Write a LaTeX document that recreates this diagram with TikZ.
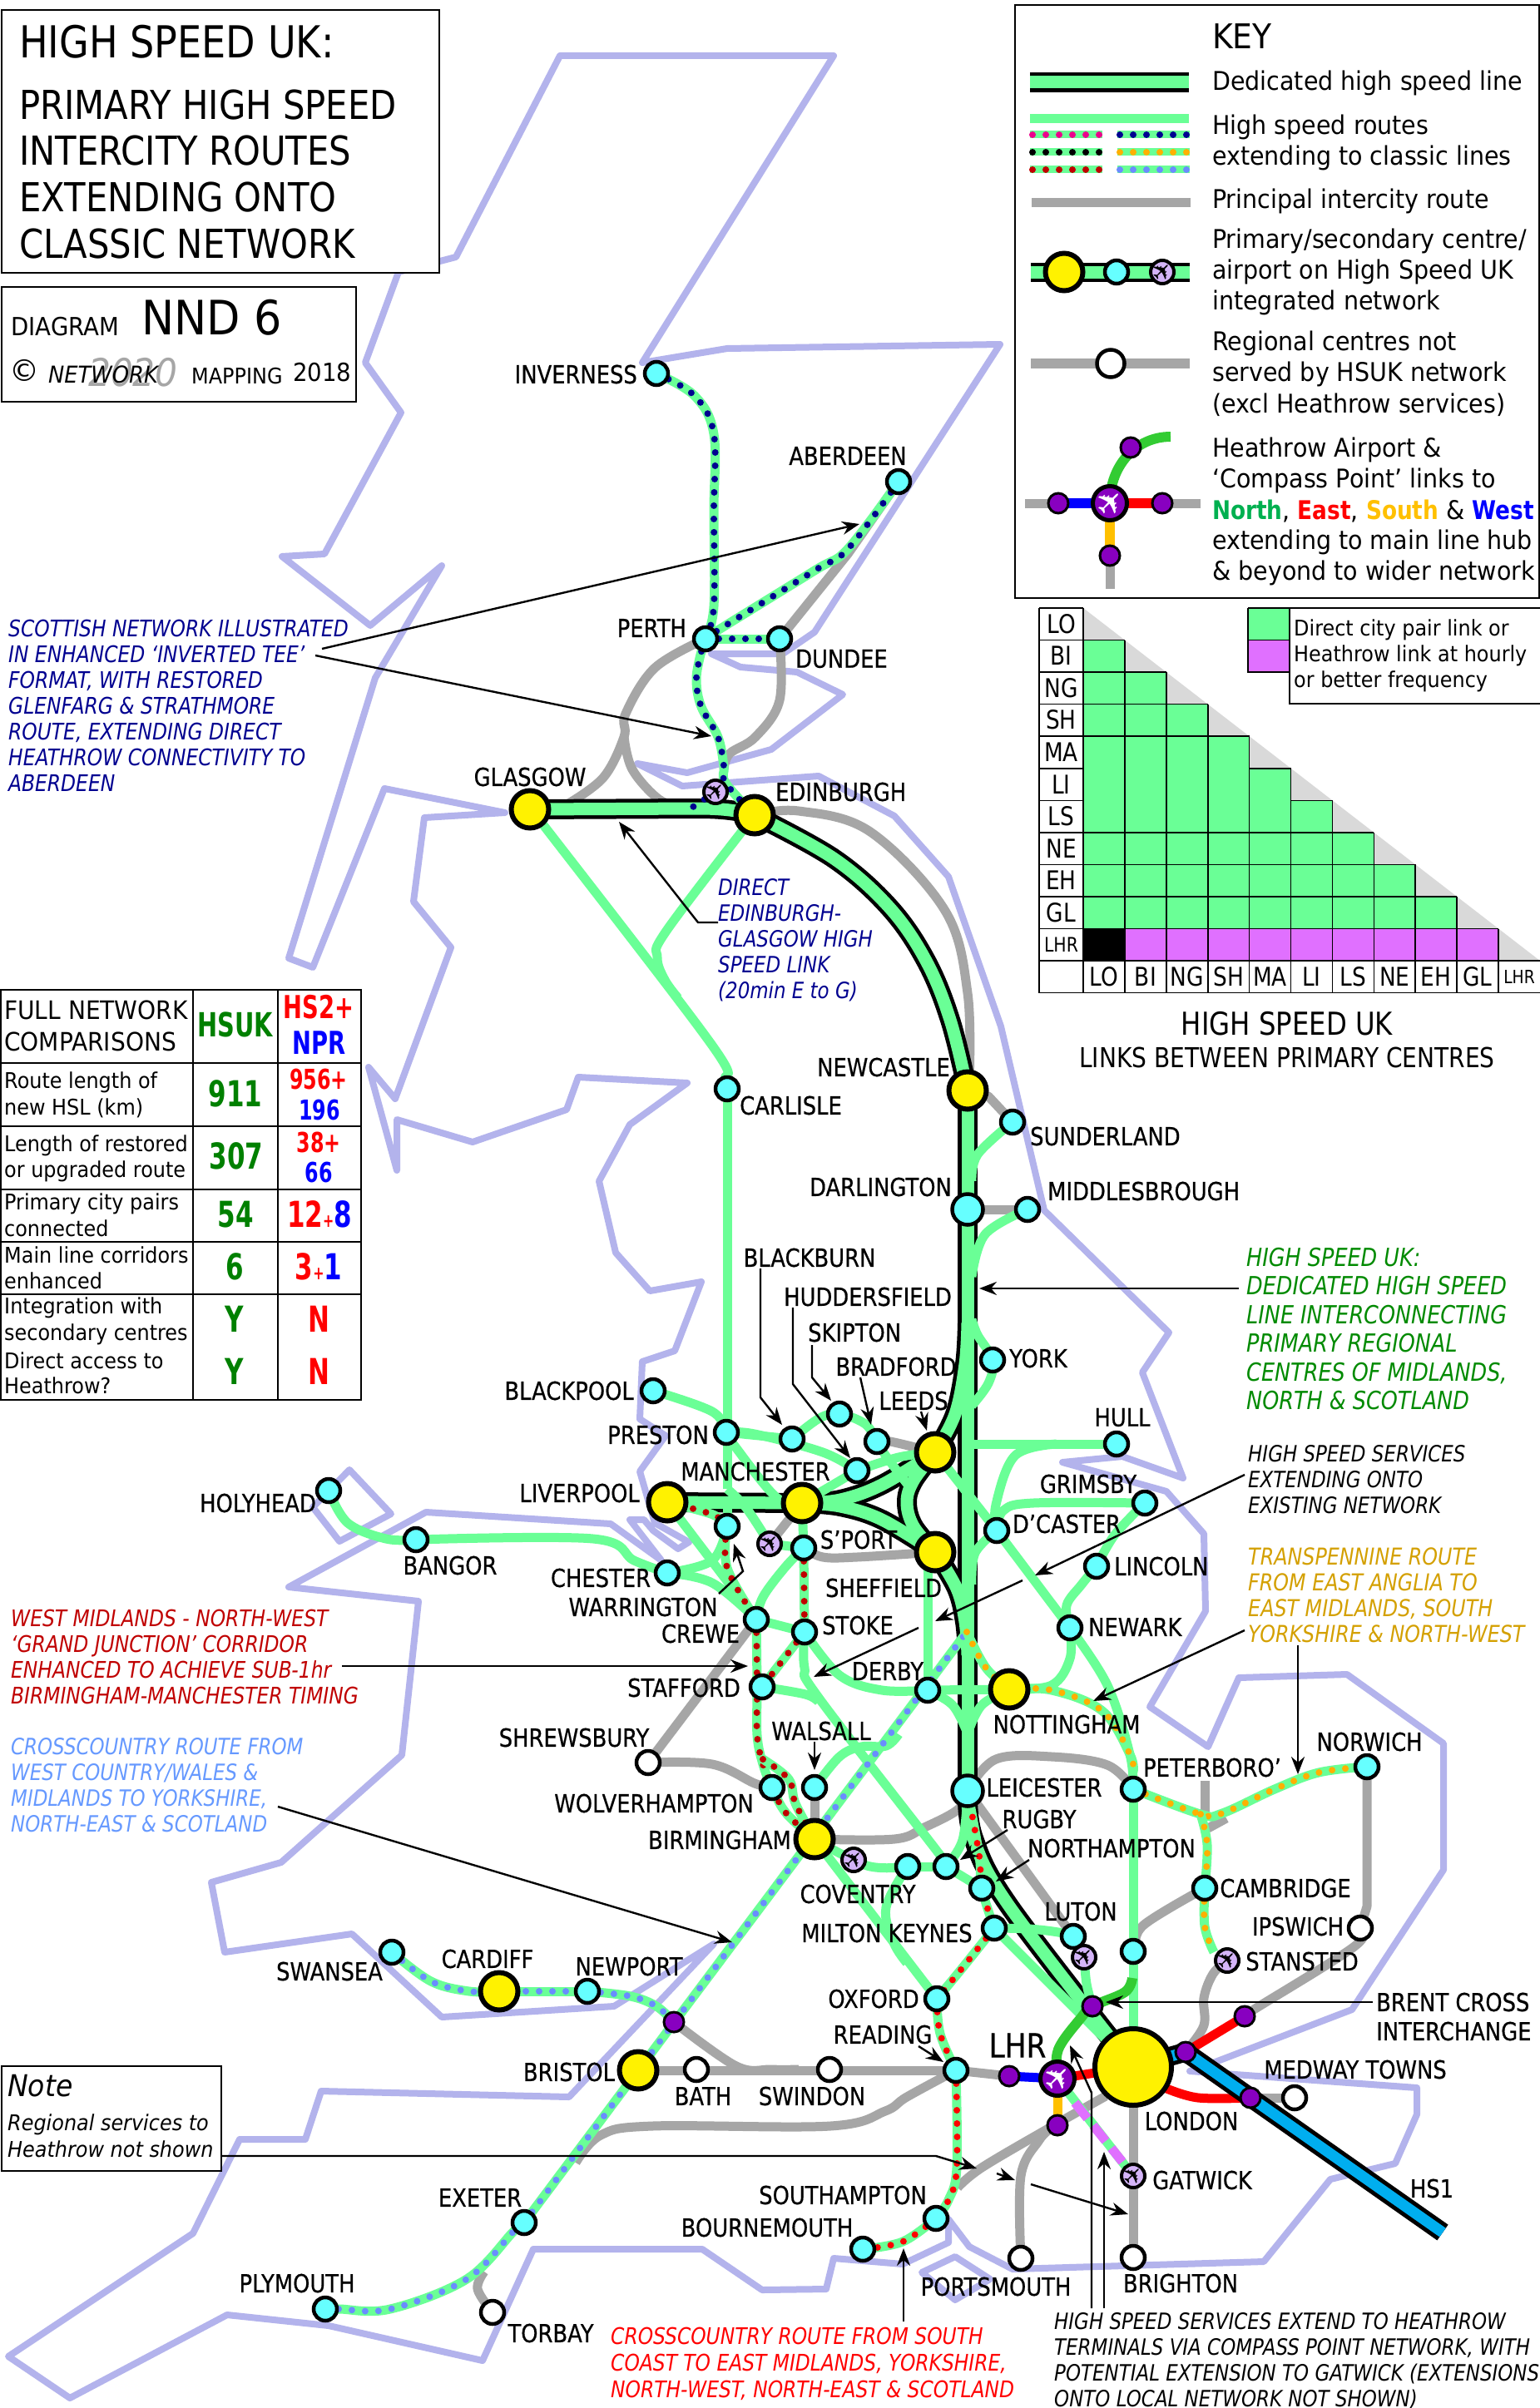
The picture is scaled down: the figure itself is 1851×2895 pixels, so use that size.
\documentclass[tikz,border=0pt]{standalone}
\usepackage{fontspec}
\usepackage{graphicx}
\usetikzlibrary{arrows.meta}
\newfontfamily\mapf{DejaVu Sans}[FakeStretch=0.86,FakeBold=0.5]
\newfontfamily\annf{DejaVu Sans}[FakeStretch=0.85]
\newfontfamily\keyf{DejaVu Sans}[FakeStretch=0.92]
\newfontfamily\titf{DejaVu Sans}[FakeStretch=0.87]
\newfontfamily\kbf{DejaVu Sans}[FakeStretch=0.85]
\newfontfamily\numf{DejaVu Sans}[FakeStretch=0.72]
\newfontfamily\planef{DejaVu Sans}
\setmainfont{DejaVu Sans}
\newcommand\fsz[1]{\fontsize{#1}{#1}\selectfont}
\newcommand\fszl[2]{\fontsize{#1}{#2}\selectfont}
\newcommand\planeic[2]{\textcolor{#1}{\fsz{#2}\rotatebox{45}{\planef\char"2708}}}
\newcommand\rt[2]{\draw[#1] plot[smooth,tension=.6] coordinates {#2};}
\newcommand\rtd[2]{\draw[hs] plot[smooth,tension=.6] coordinates {#2};\draw[#1] plot[smooth,tension=.6] coordinates {#2};}
\definecolor{hsg}{HTML}{6AFF96}
\definecolor{cyn}{HTML}{66FFFF}
\definecolor{gry}{HTML}{A6A6A6}
\definecolor{lav}{HTML}{B3B3EC}
\definecolor{purp}{HTML}{8800C0}
\definecolor{plav}{HTML}{D4B4F8}
\definecolor{mag}{HTML}{E070FF}
\definecolor{navyd}{HTML}{000090}
\definecolor{orng}{HTML}{FFB000}
\definecolor{bldot}{HTML}{6A8CFF}
\definecolor{dred}{HTML}{C00000}
\definecolor{gold}{HTML}{D4A000}
\definecolor{dgreen}{HTML}{008A00}
\definecolor{hs1}{HTML}{00AEEF}
\definecolor{north}{HTML}{00B050}
\definecolor{ngreen}{HTML}{33CC33}
\definecolor{sth}{HTML}{FFC000}
\definecolor{ccblue}{HTML}{6699FF}
\pgfdeclarelayer{bg}
\pgfsetlayers{bg,main}
\tikzset{
 coast/.style={draw=lav,line width=8pt,line join=round,line cap=round},
 gy/.style={draw=gry,line width=11pt,line join=round},
 hs/.style={draw=hsg,line width=11pt,line join=round},
 hsb/.style={draw=black,line width=24pt},
 hsc/.style={draw=hsg,line width=15pt},
 ddot/.style={line width=8pt,line cap=round,dash pattern=on 0pt off 16pt},
 dnavy/.style={ddot,draw=navyd},
 dorng/.style={ddot,draw=orng},
 dblue/.style={ddot,draw=bldot},
 dred1/.style={ddot,draw=dred},
 dred2/.style={ddot,draw=red},
 cy/.style={circle,draw=black,fill=cyn,line width=4.5pt,minimum size=28pt,inner sep=0pt},
 cyb/.style={cy,minimum size=37pt},
 yl/.style={circle,draw=black,fill=yellow,line width=6pt,minimum size=45pt,inner sep=0pt},
 wh/.style={circle,draw=black,fill=white,line width=4.5pt,minimum size=28pt,inner sep=0pt},
 pu/.style={circle,draw=black,fill=purp,line width=3pt,minimum size=24pt,inner sep=0pt},
 ap/.style={circle,draw=black,fill=plav,line width=4pt,minimum size=28pt,inner sep=0pt,label={[inner sep=0pt]center:\planeic{black}{29}}},
 aph/.style={circle,draw=black,fill=purp,line width=5pt,minimum size=41pt,inner sep=0pt,label={[inner sep=0pt]center:\planeic{white}{40}}},
 lab/.style={inner sep=0pt,text=black,font=\mapf\fsz{30}},
 ann/.style={inner sep=0pt,align=left,anchor=north west,font=\annf\itshape\fszl{27}{31}},
 tkey/.style={inner sep=0pt,anchor=west,font=\keyf\fsz{31}},
 tcell/.style={inner sep=0pt,anchor=west,font=\keyf\fsz{26}},
 tnum/.style={inner sep=0pt,font=\numf\bfseries\fsz{43}},
 bx/.style={draw=black,line width=2.5pt,fill=white},
 ar/.style={draw=black,line width=2.4pt,-{Stealth[length=21pt,width=16pt]}},
 mlab/.style={inner sep=0pt,font=\annf\fsz{31}},
 grid/.style={draw=black,line width=1.6pt}
}
\begin{document}
\begin{tikzpicture}[x=1pt,y=-1pt]
\useasboundingbox (0,0) rectangle (1851,2895);
% ---------- station nodes
\node[cy] (inv) at (789,449) {};
\node[cy] (abd) at (1080,579) {};
\node[cy] (per) at (848,768) {};
\node[cy] (dun) at (937,768) {};
\node[ap] (eap) at (860,952) {};
\node[yl] (gla) at (637,973) {};
\node[yl] (edi) at (907,980) {};
\node[yl] (new) at (1163,1311) {};
\node[cy] (car) at (874,1309) {};
\node[cy] (sun) at (1217,1349) {};
\node[cyb] (dar) at (1163,1454) {};
\node[cy] (mid) at (1235,1454) {};
\node[cy] (yor) at (1193,1635) {};
\node[cy] (hul) at (1342,1736) {};
\node[cy] (gri) at (1376,1807) {};
\node[cy] (don) at (1198,1840) {};
\node[cy] (lin) at (1318,1883) {};
\node[cy] (nwk) at (1286,1957) {};
\node[yl] (not) at (1213,2031) {};
\node[cyb] (lei) at (1163,2153) {};
\node[cy] (pet) at (1362,2151) {};
\node[cy] (nor) at (1643,2124) {};
\node[cy] (cam) at (1448,2270) {};
\node[wh] (ips) at (1635,2318) {};
\node[ap] (stn) at (1475,2357) {};
\node[cy] (blp) at (785,1672) {};
\node[cy] (pre) at (873,1722) {};
\node[cy] (bkb) at (952,1730) {};
\node[cy] (ski) at (1009,1700) {};
\node[cy] (bra) at (1054,1733) {};
\node[cy] (hud) at (1030,1768) {};
\node[yl] (lee) at (1124,1746) {};
\node[yl] (man) at (964,1807) {};
\node[yl] (liv) at (802,1806) {};
\node[yl] (she) at (1124,1866) {};
\node[cy] (war) at (874,1835) {};
\node[ap] (map) at (925,1856) {};
\node[cy] (spo) at (966,1861) {};
\node[cy] (che) at (802,1891) {};
\node[cy] (cre) at (909,1947) {};
\node[cy] (sto) at (967,1962) {};
\node[cy] (saf) at (916,2028) {};
\node[cy] (der) at (1115,2032) {};
\node[wh] (shr) at (779,2119) {};
\node[cy] (wol) at (928,2149) {};
\node[cy] (wal) at (979,2149) {};
\node[yl] (bir) at (979,2211) {};
\node[ap] (bap) at (1026,2236) {};
\node[cy] (cov) at (1091,2244) {};
\node[cy] (rug) at (1137,2244) {};
\node[cy] (nth) at (1180,2270) {};
\node[cy] (mkn) at (1195,2318) {};
\node[cy] (lut) at (1290,2328) {};
\node[ap] (lap) at (1303,2353) {};
\node[cy] (ste) at (1362,2346) {};
\node[pu] (bcr) at (1313,2412) {};
\node[cy] (oxf) at (1126,2403) {};
\node[cy] (rea) at (1149,2489) {};
\node[wh] (swi) at (997,2488) {};
\node[wh] (bat) at (837,2488) {};
\node[yl] (bri) at (767,2489) {};
\node[pu] (bpk) at (810,2431) {};
\node[cy] (swa) at (471,2347) {};
\node[yl] (cdf) at (600,2394) {};
\node[cy] (npt) at (706,2394) {};
\node[cy] (exe) at (630,2672) {};
\node[wh] (tor) at (592,2780) {};
\node[cy] (ply) at (391,2776) {};
\node[cy] (sou) at (1125,2667) {};
\node[cy] (bou) at (1037,2704) {};
\node[wh] (por) at (1227,2715) {};
\node[wh] (brg) at (1362,2714) {};
\node[ap] (gat) at (1362,2616) {};
\node[yl,minimum size=92pt] (lon) at (1362,2485) {};
\node[aph] (lhr) at (1271,2499) {};
\node[pu] (lhw) at (1213,2496) {};
\node[pu] (lhs) at (1271,2555) {};
\node[pu] (hsa) at (1425,2467) {};
\node[pu] (hsb1) at (1496,2424) {};
\node[pu] (hsc1) at (1503,2522) {};
\node[wh] (med) at (1556,2522) {};
\node[cy] (hol) at (395,1792) {};
\node[cy] (ban) at (500,1851) {};
\coordinate (hsend) at (1734,2684);
% ---------- everything below stations
\begin{pgfonlayer}{bg}
\fill[white] (0,0) rectangle (1851,2895);
\draw[coast] (673,67)--(1002,67)--(772,436)--(874,419)--(1202,414)--(979,760)--(941,786)--(855,786)--(890,802)--(958,808)--(1013,835)--(927,901)--(826,929)--(766,918)--(820,945)--(984,933)--(1075,981)--(1140,1054)--(1203,1234)--(1255,1455)--(1405,1602)--(1373,1650)--(1422,1777)--(1349,1751)--(1277,1758)--(1402,1793)--(1447,1844)--(1449,1937)--(1382,2052)--(1452,2100)--(1489,2017)--(1619,2013)--(1735,2096)--(1735,2248)--(1625,2416)--(1458,2480)--(1430,2490)--(1703,2510)--(1703,2542)--(1677,2601)--(1599,2620)--(1519,2719)--(1217,2728)--(1165,2701)--(1140,2668)--(1140,2696)--(1085,2722)--(1002,2715)--(993,2752)--(916,2753)--(844,2704)--(641,2704)--(580,2838)--(395,2796)--(273,2783)--(84,2883)--(10,2833)--(232,2685)--(288,2572)--(367,2572)--(386,2514)--(684,2521)--(858,2337)--(738,2412)--(531,2425)--(423,2325)--(270,2347)--(254,2263)--(338,2239)--(483,2110)--(503,1925)--(347,1908)--(512,1818)--(734,1832)--(795,1876)--(757,1827)--(774,1827)--(785,1840)--(815,1862)--(828,1854)--(787,1831)--(769,1769)--(800,1726)--(769,1706)--(772,1637)--(811,1624)--(843,1541)--(781,1552)--(740,1506)--(720,1420)--(757,1352)--(826,1302)--(695,1295)--(681,1334)--(568,1373)--(477,1346)--(477,1407)--(443,1283)--(475,1321)--(542,1139)--(497,1084)--(510,983)--(607,977)--(462,948)--(376,1163)--(347,1152)--(451,815)--(531,680)--(445,752)--(339,669)--(390,666)--(482,496)--(439,436)--(479,327)--(548,309)--cycle;
\draw[coast] (420,1767)--(470,1820)--(408,1853)--(376,1812)--cycle;
\draw[coast] (1108,2732)--(1148,2713)--(1190,2740)--(1148,2765)--cycle;
% grey routes
\draw[gy] (abd.center)--(1019,666)--(dun.center);
\rt{gy}{(per.center)(787,803)(752,858)(750,886)(725,935)(680,968)}
\rt{gy}{(750,886)(760,925)(792,961)(820,970)}
\rt{gy}{(dun.center)(937,842)(908,886)(877,906)(870,925)}
\rt{gy}{(edi.center)(960,975)(1046,1000)(1136,1095)(1163,1194)(1165,1300)}
\draw[gy] (new.center)--(1188,1318)--(sun.center);
\draw[gy] (dar.center)--(mid.center);
\rt{gy}{(lei.center)(1197,2115)(1264,2112)(1331,2122)(pet.center)}
\rt{gy}{(lei.center)(1152,2175)(1111,2197)(1075,2211)(bir.center)}
\draw[gy] (lei.center)--(lut.center);
\draw[gy] (wal.center)--(bir.center);
\draw[gy] (shr.center)--(cre.center);
\rt{gy}{(shr.center)(856,2121)(907,2144)(wol.center)}
\draw[gy] (map.center)--(man.center);
\rt{gy}{(spo.center)(989,1872)(1030,1872)(she.center)}
\rt{gy}{(bra.center)(1070,1733)(lee.center)}
\draw[gy] (1448,2141)--(1448,2183);
\draw[gy] (1474,2186)--(1452,2198);
\draw[gy] (nor.center)--(1643,2292)--(ips.center);
\rt{gy}{(ips.center)(1628,2340)(1507,2416)(hsb1.center)}
\rt{gy}{(cam.center)(1375,2314)(1365,2340)}
\rt{gy}{(stn.center)(1458,2373)(1447,2402)(1447,2435)(1427,2464)}
\draw[gy] (rea.center)--(bri.center);
\rt{gy}{(bpk.center)(885,2484)(927,2488)(960,2488)}
\rt{gy}{(692,2600)(722,2567)(784,2556)(998,2556)(1064,2538)(1090,2521)(rea.center)}
\rt{gy}{(tor.center)(574,2752)(582,2731)}
\draw[gy] (rea.center)--(lhw.center);
\rt{gy}{(1151,2630)(1180,2606)(1260,2559)(1329,2520)}
\rt{gy}{(por.center)(1227,2616)(1249,2573)(1262,2560)}
\draw[gy] (brg.center)--(lon.center);
\draw[gy] (hsc1.center)--(med.center);
% high speed band: black first
\draw[hsb] (gla.center)--(840,972) .. controls (870,972) and (890,975) .. (edi.center);
\rt{hsb}{(edi.center)(1002,1032)(1069,1091)(1113,1155)(1142,1226)(new.center)}
\draw[hsb] (new.center)--(lei.center);
\draw[hsb] (liv.center)--(man.center);
\rt{hsb}{(man.center)(1010,1803)(1060,1785)(lee.center)}
\rt{hsb}{(man.center)(1010,1811)(1060,1827)(she.center)}
\rt{hsb}{(lee.center)(1098,1780)(1090,1806)(1098,1835)(she.center)}
\rt{hsb}{(lee.center)(1148,1700)(1160,1640)(1163,1590)}
\rt{hsb}{(she.center)(1150,1910)(1160,1950)(1163,1990)}
\rt{hsb}{(lei.center)(1170,2210)(1214,2293)(lon.center)}
\draw[line width=4pt,black] plot[smooth,tension=.6] coordinates {(1137,1898)(1155,1952)(1152,1979)};
% green core
\draw[hsc] (gla.center)--(840,972) .. controls (870,972) and (890,975) .. (edi.center);
\rt{hsc}{(edi.center)(1002,1032)(1069,1091)(1113,1155)(1142,1226)(new.center)}
\draw[hsc] (new.center)--(lei.center);
\draw[hsc] (liv.center)--(man.center);
\rt{hsc}{(man.center)(1010,1803)(1060,1785)(lee.center)}
\rt{hsc}{(man.center)(1010,1811)(1060,1827)(she.center)}
\rt{hsc}{(lee.center)(1098,1780)(1090,1806)(1098,1835)(she.center)}
\rt{hsc}{(lee.center)(1148,1700)(1160,1640)(1163,1590)}
\rt{hsc}{(she.center)(1150,1910)(1160,1950)(1163,1990)}
\rt{hsc}{(lei.center)(1170,2210)(1214,2293)(lon.center)}
% green routes
\rt{hs}{(gla.center)(654,993)(854,1254)(872,1297)(car.center)}
\rt{hs}{(edi.center)(801,1119)(790,1151)(799,1178)(815,1200)}
\draw[hs] (car.center)--(874,1790);
\rt{hs}{(874,1790)(897,1813)(map.center)}
\rt{hs}{(sun.center)(1175,1388)(1168,1420)}
\rt{hs}{(mid.center)(1184,1484)(1168,1535)}
\rt{hs}{(1168,1586)(1175,1605)(yor.center)(1188,1663)(1168,1690)}
\draw[hs] (1170,1736)--(hul.center);
\rt{hs}{(1270,1736)(1220,1750)(1197,1809)(don.center)}
\rt{hs}{(gri.center)(1242,1807)(1206,1816)(don.center)}
\rt{hs}{(don.center)(1172,1867)(1168,1905)}
\draw[hs] (lee.center)--(don.center);
\draw[hs] (don.center)--(nwk.center);
\rt{hs}{(gri.center)(1340,1845)(lin.center)}
\rt{hs}{(lin.center)(1300,1905)(1282,1930)(nwk.center)}
\rt{hs}{(nwk.center)(1331,2026)(1358,2109)(pet.center)}
\rt{hs}{(nwk.center)(1286,1994)(1264,2026)(not.center)}
\draw[hs] (der.center)--(not.center);
\rt{hs}{(der.center)(1145,2050)(1163,2084)}
\rt{hs}{(not.center)(1180,2050)(1163,2084)}
\draw[hs] (pet.center)--(ste.center)--(lon.center);
\rt{hs}{(blp.center)(856,1697)(pre.center)}
\rt{hs}{(pre.center)(907,1724)(989,1746)(hud.center)}
\draw[hs] (pre.center)--(bkb.center);
\rt{hs}{(bkb.center)(985,1705)(ski.center)(1040,1712)(bra.center)}
\rt{hs}{(bra.center)(1066,1752)(1095,1790)}
\rt{hs}{(hud.center)(1080,1752)(lee.center)}
\draw[hs] (hud.center)--(man.center);
\rt{hs}{(pre.center)(882,1737)(933,1800)(man.center)}
\draw[hs] (liv.center)--(cre.center);
\rt{hs}{(che.center)(856,1903)(cre.center)}
\rt{hs}{(che.center)(856,1876)(war.center)}
\draw[hs] (war.center)--(874,1806);
\draw[hs] (map.center)--(spo.center);
\draw[hs] (man.center)--(spo.center);
\rt{hs}{(spo.center)(943,1885)(917,1920)(cre.center)}
\draw[hs] (cre.center)--(sto.center);
\rt{hs}{(sto.center)(967,2005)(984,2041)(1132,2233)(rug.center)}
\rt{hs}{(sto.center)(1009,2014)(1060,2032)(der.center)}
\rt{hs}{(saf.center)(968,2037)(984,2046)}
\rt{hs}{(wal.center)(1009,2112)(1035,2100)(1065,2099)(1080,2085)}
\draw[hs] (1115,1880)--(der.center);
\rt{hs}{(hol.center)(418,1831)(464,1850)(ban.center)}
\rt{hs}{(ban.center)(713,1850)(762,1876)(che.center)}
\draw[hs] (bir.center)--(oxf.center);
\rt{hs}{(bir.center)(1042,2243)(cov.center)}
\draw[hs] (cov.center)--(rug.center);
\rt{hs}{(rug.center)(1157,2212)(lei.center)}
\rt{hs}{(cov.center)(1065,2293)(1074,2335)(1090,2360)}
\draw[hs] (rug.center)--(nth.center);
\draw[hs] (mkn.center)--(lon.center);
\rt{hs}{(mkn.center)(1237,2319)(1272,2323)(lut.center)}
\rt{hs}{(lap.center)(1306,2385)(bcr.center)}
\draw[hs] (ste.center)--(1362,2400);
% dotted
\rtd{dnavy}{(inv.center)(835,476)(858,522)(858,614)(858,729)(per.center)}
\rtd{dnavy}{(abd.center)(1019,660)(979,686)(864,757)(per.center)}
\rtd{dnavy}{(per.center)(dun.center)}
\rtd{dnavy}{(per.center)(841,791)(837,819)(843,850)(863,886)(870,921)(872,941)(edi.center)}
\draw[dnavy] (eap.center)--(830,972);
\rtd{dorng}{(not.center)(1264,2032)(1325,2057)(1358,2109)(1362,2130)}
\rtd{dorng}{(pet.center)(1443,2181)(1469,2180)(1532,2151)(1585,2131)(nor.center)}
\rtd{dorng}{(1443,2181)(1451,2218)(cam.center)}
\rtd{dorng}{(cam.center)(1448,2316)(1459,2347)}
\rtd{dblue}{(ply.center)(408,2776)(469,2776)(561,2740)(617,2683)(exe.center)}
\draw[hs] (exe.center)--(1162,1962);
\draw[dblue] (exe.center)--(1162,1962);
\rtd{dblue}{(swa.center)(518,2382)(564,2394)(cdf.center)}
\rtd{dblue}{(cdf.center)(npt.center)}
\rtd{dblue}{(npt.center)(758,2400)(789,2412)(bpk.center)}
\rt{hs}{(1162,1962)(1185,2005)(not.center)}
\rt{dorng}{(1162,1962)(1185,2005)(not.center)}
\rtd{dred1}{(liv.center)(857,1821)(war.center)}
\rtd{dred1}{(war.center)(874,1885)(cre.center)}
\rtd{dred1}{(spo.center)(sto.center)}
\rtd{dred1}{(sto.center)(saf.center)}
\rtd{dred1}{(cre.center)(910,2028)(910,2086)(917,2121)(wol.center)(945,2180)(bir.center)}
\rtd{dred1}{(917,2115)(948,2139)(956,2168)(bir.center)}
\rtd{dred2}{(lei.center)(1177,2231)(nth.center)(mkn.center)}
\rtd{dred2}{(mkn.center)(1155,2368)(oxf.center)}
\rtd{dred2}{(oxf.center)(1130,2445)(rea.center)}
\rtd{dred2}{(rea.center)(1150,2606)(1140,2645)(sou.center)}
\rtd{dred2}{(sou.center)(1085,2695)(bou.center)}
% Heathrow compass
\draw[line width=11pt,red] (lhr.center)--(lon.center);
\draw[line width=11pt,blue] (lhr.center)--(lhw.center);
\draw[line width=11pt,sth] (lhr.center)--(lhs.center);
\draw[line width=11pt,red] (hsa.center)--(hsb1.center);
\rt{line width=11pt,red}{(1400,2510)(1440,2522)(hsc1.center)}
\rt{line width=12pt,ngreen}{(lhr.center)(1272,2464)(1300,2425)(bcr.center)(1352,2395)(1361,2378)}
\draw[hs] (lhr.center)--(gat.center);
\draw[line width=11pt,mag,dash pattern=on 24pt off 11pt] (1292,2528)--(1349,2599);
% HS1
\draw[line width=23pt,black] (lon.center)--(hsa.center)--(hsend);
\draw[line width=13pt,hs1] (lon.center)--(hsa.center)--(hsend);
\end{pgfonlayer}
% ---------- map labels
\node[lab,anchor=east] (t1) at (766,450) {INVERNESS};
\node[lab] (t2) at (1019,548) {ABERDEEN};
\node[lab,anchor=east] (t3) at (825,755) {PERTH};
\node[lab,anchor=west] (t4) at (956,792) {DUNDEE};
\node[lab] (t5) at (637,934) {GLASGOW};
\node[lab,anchor=west] (t6) at (932,952) {EDINBURGH};
\node[lab,anchor=east] (t7) at (1142,1283) {NEWCASTLE};
\node[lab,anchor=west] (t8) at (889,1329) {CARLISLE};
\node[lab,anchor=west] (t9) at (1238,1366) {SUNDERLAND};
\node[lab,anchor=east] (t10) at (1144,1427) {DARLINGTON};
\node[lab,anchor=west] (t11) at (1259,1432) {MIDDLESBROUGH};
\node[lab] (t12) at (973,1512) {BLACKBURN};
\node[lab] (t13) at (1043,1559) {HUDDERSFIELD};
\node[lab,anchor=west] (t14) at (971,1602) {SKIPTON};
\node[lab] (t15) at (1077,1643) {BRADFORD};
\node[lab] (t16) at (1098,1684) {LEEDS};
\node[lab,anchor=west] (t17) at (1213,1633) {YORK};
\node[lab,anchor=east] (t18) at (762,1672) {BLACKPOOL};
\node[lab,anchor=east] (t19) at (852,1725) {PRESTON};
\node[lab] (t20) at (908,1769) {MANCHESTER};
\node[lab,anchor=east] (t21) at (769,1795) {LIVERPOOL};
\node[lab] (t22) at (1349,1704) {HULL};
\node[lab] (t23) at (1308,1784) {GRIMSBY};
\node[lab] (t24) at (1282,1832) {D’CASTER};
\node[lab,anchor=west] (t25) at (1339,1883) {LINCOLN};
\node[lab,anchor=west] (t26) at (1308,1956) {NEWARK};
\node[lab] (t27) at (1282,2073) {NOTTINGHAM};
\node[lab,anchor=east] (t28) at (380,1807) {HOLYHEAD};
\node[lab] (t29) at (541,1882) {BANGOR};
\node[lab] (t30) at (1032,1851) {S’PORT};
\node[lab] (t31) at (722,1897) {CHESTER};
\node[lab] (t32) at (773,1932) {WARRINGTON};
\node[lab] (t33) at (842,1964) {CREWE};
\node[lab] (t34) at (1062,1909) {SHEFFIELD};
\node[lab] (t35) at (1031,1954) {STOKE};
\node[lab] (t36) at (1067,2009) {DERBY};
\node[lab] (t37) at (822,2029) {STAFFORD};
\node[lab] (t38) at (690,2089) {SHREWSBURY};
\node[lab] (t39) at (987,2081) {WALSALL};
\node[lab] (t40) at (786,2168) {WOLVERHAMPTON};
\node[lab] (t41) at (865,2212) {BIRMINGHAM};
\node[lab] (t42) at (1255,2149) {LEICESTER};
\node[lab] (t43) at (1249,2187) {RUGBY};
\node[lab] (t44) at (1336,2222) {NORTHAMPTON};
\node[lab] (t45) at (1457,2125) {PETERBORO’};
\node[lab] (t46) at (1646,2094) {NORWICH};
\node[lab] (t47) at (1545,2270) {CAMBRIDGE};
\node[lab] (t48) at (1560,2316) {IPSWICH};
\node[lab] (t49) at (1565,2358) {STANSTED};
\node[lab] (t50) at (1031,2277) {COVENTRY};
\node[lab] (t51) at (1066,2324) {MILTON KEYNES};
\node[lab] (t52) at (1299,2298) {LUTON};
\node[lab] (t53) at (1050,2403) {OXFORD};
\node[lab] (t54) at (1061,2446) {READING};
\node[lab,font=\mapf\fsz{40}] (t55) at (1223,2459) {LHR};
\node[lab,anchor=west] (t56) at (1654,2407) {BRENT CROSS};
\node[lab,anchor=west] (t57) at (1654,2442) {INTERCHANGE};
\node[lab] (t58) at (1629,2488) {MEDWAY TOWNS};
\node[lab] (t59) at (1432,2550) {LONDON};
\node[lab] (t60) at (1445,2621) {GATWICK};
\node[lab] (t61) at (1721,2631) {HS1};
\node[lab] (t62) at (1419,2745) {BRIGHTON};
\node[lab] (t63) at (1197,2749) {PORTSMOUTH};
\node[lab] (t64) at (1013,2639) {SOUTHAMPTON};
\node[lab] (t65) at (922,2678) {BOURNEMOUTH};
\node[lab] (t66) at (845,2520) {BATH};
\node[lab] (t67) at (976,2520) {SWINDON};
\node[lab] (t68) at (684,2491) {BRISTOL};
\node[lab] (t69) at (756,2364) {NEWPORT};
\node[lab] (t70) at (586,2355) {CARDIFF};
\node[lab] (t71) at (396,2370) {SWANSEA};
\node[lab] (t72) at (577,2642) {EXETER};
\node[lab] (t73) at (357,2745) {PLYMOUTH};
\node[lab] (t74) at (662,2805) {TORBAY};
% ---------- leader lines
\coordinate (a1) at (387,780); \coordinate (a2) at (1033,630);
\draw[ar] (a1)--(a2);
\coordinate (a3) at (379,788); \coordinate (a4) at (855,885);
\draw[ar] (a3)--(a4);
\draw[ar] (863,1109)--(839,1109)--(744,988);
\draw[ar] (1489,1549)--(1177,1549);
\draw[ar] (1496,1773)--(1244,1894);
\draw[ar] (1229,1900)--(1124,1949);
\draw[ar] (1104,1957)--(978,2016);
\draw[ar] (1496,1960)--(1314,2045);
\draw[ar] (1560,1978)--(1560,2133);
\draw[ar] (411,2003)--(899,2003);
\draw[ar] (334,2172)--(880,2335);
\draw[ar] (266,2592)--(1125,2592)--(1174,2607);
\draw[ar] (1198,2613)--(1220,2621);
\draw[ar] (1239,2626)--(1356,2662);
\draw[ar] (1086,2791)--(1086,2703);
\draw[ar] (1312,2775)--(1312,2516)--(1286,2459);
\draw[ar] (1327,2775)--(1327,2587);
\draw[ar] (914,1525)--(914,1680)--(940,1713);
\draw[ar] (953,1572)--(953,1664)--(1022,1753);
\draw[ar] (976,1617)--(976,1656)--(999,1684);
\draw[ar] (1034,1656)--(1047,1713);
\draw[ar] (1107,1697)--(1114,1720);
\draw[ar] (864,1916)--(893,1889)--(882,1856);
\draw[ar] (979,2094)--(979,2128);
\draw[ar] (1211,2200)--(1154,2236);
\draw[ar] (1237,2236)--(1197,2262);
\draw[ar] (1104,2460)--(1134,2479);
\draw[ar] (1650,2407)--(1329,2407);
% ---------- annotations
\node[ann,text=navyd,font=\annf\itshape\fszl{27.5}{31}] (n1) at (10,745) {SCOTTISH NETWORK ILLUSTRATED\\IN ENHANCED ‘INVERTED TEE’\\FORMAT, WITH RESTORED\\GLENFARG \& STRATHMORE\\ROUTE, EXTENDING DIRECT\\HEATHROW CONNECTIVITY TO\\ABERDEEN};
\node[ann,text=navyd] (n2) at (863,1056) {DIRECT\\EDINBURGH-\\GLASGOW HIGH\\SPEED LINK\\(20min E to G)};
\node[ann,text=dgreen,font=\annf\itshape\fszl{30}{34.5}] (n3) at (1498,1500) {HIGH SPEED UK:\\DEDICATED HIGH SPEED\\LINE INTERCONNECTING\\PRIMARY REGIONAL\\CENTRES OF MIDLANDS,\\NORTH \& SCOTLAND};
\node[ann,text=black] (n4) at (1500,1737) {HIGH SPEED SERVICES\\EXTENDING ONTO\\EXISTING NETWORK};
\node[ann,text=gold,font=\annf\itshape\fszl{28}{31}] (n5) at (1500,1860) {TRANSPENNINE ROUTE\\FROM EAST ANGLIA TO\\EAST MIDLANDS, SOUTH\\YORKSHIRE \& NORTH-WEST};
\node[ann,text=dred,font=\annf\itshape\fszl{27.5}{31}] (n6) at (13,1935) {WEST MIDLANDS - NORTH-WEST\\‘GRAND JUNCTION’ CORRIDOR\\ENHANCED TO ACHIEVE SUB-1hr\\BIRMINGHAM-MANCHESTER TIMING};
\node[ann,text=ccblue] (n7) at (13,2089) {CROSSCOUNTRY ROUTE FROM\\WEST COUNTRY/WALES \&\\MIDLANDS TO YORKSHIRE,\\NORTH-EAST \& SCOTLAND};
\node[ann,text=red,font=\annf\itshape\fszl{27.5}{32}] (n8) at (734,2798) {CROSSCOUNTRY ROUTE FROM SOUTH\\COAST TO EAST MIDLANDS, YORKSHIRE,\\NORTH-WEST, NORTH-EAST \& SCOTLAND};
\node[ann,text=black] (n9) at (1267,2780) {HIGH SPEED SERVICES EXTEND TO HEATHROW\\TERMINALS VIA COMPASS POINT NETWORK, WITH\\POTENTIAL EXTENSION TO GATWICK (EXTENSIONS\\ONTO LOCAL NETWORK NOT SHOWN)};
% ---------- note
\draw[bx] (2,2484) rectangle (266,2610);
\node[inner sep=0pt,anchor=west,font=\keyf\itshape\fsz{36}] (note1) at (9,2508) {Note};
\node[inner sep=0pt,anchor=west,font=\keyf\itshape\fsz{26}] (note2) at (9,2554) {Regional services to};
\node[inner sep=0pt,anchor=west,font=\keyf\itshape\fsz{26}] (note3) at (9,2584) {Heathrow not shown};
% ---------- title
\draw[bx] (2,12) rectangle (528,328);
\node[inner sep=0pt,anchor=west,font=\titf\fsz{53}] (h1) at (23,50) {HIGH SPEED UK:};
\node[inner sep=0pt,anchor=west,font=\titf\fsz{48}] (h2) at (23,126) {PRIMARY HIGH SPEED};
\node[inner sep=0pt,anchor=west,font=\titf\fsz{48}] (h3) at (23,181) {INTERCITY ROUTES};
\node[inner sep=0pt,anchor=west,font=\titf\fsz{48}] (h4) at (23,237) {EXTENDING ONTO};
\node[inner sep=0pt,anchor=west,font=\titf\fsz{48}] (h5) at (23,293) {CLASSIC NETWORK};
\draw[bx] (2,345) rectangle (428,483);
\node[inner sep=0pt,anchor=west,font=\keyf\fsz{30}] (d1) at (13,393) {DIAGRAM};
\node[inner sep=0pt,anchor=west,font=\keyf\fsz{57}] (d2) at (170,382) {NND 6};
\node[inner sep=0pt,font=\keyf\itshape\fsz{46},text=gry] (d3) at (160,448) {2020};
\node[inner sep=0pt,font=\planef\fsz{36}] (d4) at (29,445) {©};
\node[inner sep=0pt,anchor=west,font=\keyf\itshape\fsz{28}] (d5) at (58,450) {NETWORK};
\node[inner sep=0pt,anchor=west,font=\keyf\fsz{26}] (d6) at (230,452) {MAPPING};
\node[inner sep=0pt,anchor=west,font=\keyf\fsz{30}] (d7) at (352,448) {2018};
% ---------- key
\draw[bx] (1220,6) rectangle (1850,719);
\node[tkey,font=\keyf\fsz{41}] (k0) at (1457,44) {KEY};
\node[tkey] (k1) at (1457,100) {Dedicated high speed line};
\node[tkey] (k2) at (1457,153) {High speed routes};
\node[tkey] (k3) at (1457,190) {extending to classic lines};
\node[tkey] (k4) at (1457,242) {Principal intercity route};
\node[tkey] (k5) at (1457,290) {Primary/secondary centre/};
\node[tkey] (k6) at (1457,327) {airport on High Speed UK};
\node[tkey] (k7) at (1457,364) {integrated network};
\node[tkey] (k8) at (1457,413) {Regional centres not};
\node[tkey] (k9) at (1457,450) {served by HSUK network};
\node[tkey] (k10) at (1457,487) {(excl Heathrow services)};
\node[tkey] (k11) at (1457,541) {Heathrow Airport \&};
\node[tkey] (k12) at (1457,578) {‘Compass Point’ links to};
\node[tkey] (k13) at (1457,615) {{\kbf\bfseries\textcolor{north}{North}}, {\kbf\bfseries\textcolor{red}{East}}, {\kbf\bfseries\textcolor{sth}{South}} \& {\kbf\bfseries\textcolor{blue}{West}}};
\node[tkey] (k14) at (1457,652) {extending to main line hub};
\node[tkey] (k15) at (1457,689) {\& beyond to wider network};
\coordinate (kl1) at (1238,99); \coordinate (kr1) at (1429,99);
\draw[hsb] (kl1)--(kr1); \draw[hsc] (kl1)--(kr1);
\coordinate (kl2) at (1238,143); \coordinate (kr2) at (1429,143);
\draw[hs] (kl2)--(kr2);
\foreach \yy/\cola/\colb in {162/magenta/navyd,183/black/orng,204/dred/bldot}{
 \draw[draw=hsg,line width=9pt] (1238,\yy)--(1325,\yy);
 \draw[draw=hsg,line width=9pt] (1343,\yy)--(1430,\yy);
 \draw[ddot,draw=\cola] (1241,\yy)--(1325,\yy);
 \draw[ddot,draw=\colb] (1346,\yy)--(1430,\yy);
}
\coordinate (kl3) at (1240,244); \coordinate (kr3) at (1431,244);
\draw[gy] (kl3)--(kr3);
\coordinate (kl4) at (1239,327); \coordinate (kr4) at (1430,327);
\draw[hsb,line width=23pt] (kl4)--(kr4); \draw[hsc] (kl4)--(kr4);
\node[yl] (ky) at (1279,327) {};
\node[cy] (kc) at (1342,327) {};
\node[ap] (ka) at (1397,327) {};
\coordinate (kl5) at (1239,437); \coordinate (kr5) at (1430,437);
\draw[gy,line width=12pt] (kl5)--(kr5);
\node[wh,minimum size=33pt] (kw) at (1335,437) {};
\coordinate (kgw) at (1232,605); \coordinate (kge) at (1443,605); \coordinate (kgs) at (1334,708);
\coordinate (knn) at (1407,525);
\draw[gy] (kgw)--(kge); \draw[gy] (1334,650)--(kgs);
\draw[line width=12pt,ngreen] (1334,605) .. controls (1334,560) and (1365,525) .. (knn);
\draw[line width=12pt,blue] (1272,605)--(1334,605);
\draw[line width=12pt,red] (1334,605)--(1397,605);
\draw[line width=12pt,sth] (1334,605)--(1334,668);
\node[aph] (kh) at (1334,605) {};
\node[pu] (kpw) at (1272,605) {};
\node[pu] (kpe) at (1397,605) {};
\node[pu] (kps) at (1334,668) {};
\node[pu] (kpn) at (1359,538) {};
% ---------- matrix
\def\mx{49.9}\def\my{38.55}\def\mt{731}
\fill[black!15] (1302,\mt)--(1851,{\mt+11*\my})--(1302,{\mt+11*\my})--cycle;
\fill[white] (1550,\mt) rectangle (1851,846);
\foreach \i in {1,...,9}{
 \foreach \j in {1,...,\i}{
  \fill[hsg] ({1302+(\j-1)*\mx},{\mt+\i*\my}) rectangle ({1302+\j*\mx},{\mt+(\i+1)*\my});
 }
}
\fill[black] (1302,{\mt+10*\my}) rectangle ({1302+\mx},{\mt+11*\my});
\fill[mag] ({1302+\mx},{\mt+10*\my}) rectangle ({1302+10*\mx},{\mt+11*\my});
\foreach \i in {0,...,12}{ \draw[grid] (1249,{\mt+\i*\my})--(1302,{\mt+\i*\my}); }
\draw[grid] (1249,\mt)--(1249,{\mt+12*\my});
\draw[grid] (1302,\mt)--(1302,{\mt+12*\my});
\foreach \i in {1,2,3,4,7,8,9,10}{ \draw[grid] (1302,{\mt+\i*\my})--({1302+\i*\mx},{\mt+\i*\my}); }
\draw[grid] ({1302+4*\mx},{\mt+5*\my})--({1302+5*\mx},{\mt+5*\my});
\draw[grid] ({1302+5*\mx},{\mt+6*\my})--({1302+6*\mx},{\mt+6*\my});
\draw[grid] (1302,{\mt+11*\my})--(1851,{\mt+11*\my});
\draw[grid] (1249,{\mt+12*\my})--(1851,{\mt+12*\my});
\foreach \j in {1,...,10}{ \draw[grid] ({1302+\j*\mx},{\mt+\j*\my})--({1302+\j*\mx},{\mt+12*\my}); }
\foreach \t [count=\c from 0] in {LO,BI,NG,SH,MA,LI,LS,NE,EH,GL}{
 \node[mlab] (mr\c) at (1275.5,{\mt+19+\c*\my}) {\t};
 \node[mlab] (mc\c) at ({1327+\c*\mx},{\mt+11.5*\my}) {\t};
}
\node[mlab,font=\annf\fsz{24}] (mrl) at (1275.5,{\mt+10.5*\my}) {LHR};
\node[mlab,font=\annf\fsz{22}] (mcl) at (1826,{\mt+11.5*\my}) {LHR};
\fill[hsg] (1500,\mt) rectangle (1550,{\mt+\my});
\fill[mag] (1500,{\mt+\my}) rectangle (1550,{\mt+2*\my});
\draw[grid] (1500,\mt)--(1851,\mt);
\draw[grid] (1500,\mt)--(1500,{\mt+2*\my})--(1550,{\mt+2*\my});
\draw[grid] (1550,\mt)--(1550,846)--(1851,846);
\draw[grid] (1500,{\mt+\my})--(1550,{\mt+\my});
\node[inner sep=0pt,anchor=west,font=\keyf\fsz{26}] (ml1) at (1555,757) {Direct city pair link or};
\node[inner sep=0pt,anchor=west,font=\keyf\fsz{26}] (ml2) at (1555,788) {Heathrow link at hourly};
\node[inner sep=0pt,anchor=west,font=\keyf\fsz{26}] (ml3) at (1555,819) {or better frequency};
\node[inner sep=0pt,font=\annf\fsz{38}] (mt1) at (1547,1231) {HIGH SPEED UK};
\node[inner sep=0pt,font=\annf\fsz{33}] (mt2) at (1547,1271) {LINKS BETWEEN PRIMARY CENTRES};
% ---------- comparison table
\draw[grid,fill=white] (1,1190) rectangle (434,1683);
\foreach \y in {1278,1354,1430,1493,1556}{ \draw[grid] (1,\y)--(434,\y); }
\draw[grid] (232,1190)--(232,1683);
\draw[grid] (334,1190)--(334,1683);
\node[tcell,font=\keyf\fsz{30.5}] (c1) at (5,1214) {FULL NETWORK};
\node[tcell,font=\keyf\fsz{30.5}] (c2) at (5,1252) {COMPARISONS};
\node[tcell] (c3) at (5,1301) {Route length of};
\node[tcell] (c4) at (5,1332) {new HSL (km)};
\node[tcell] (c5) at (5,1377) {Length of restored};
\node[tcell] (c6) at (5,1408) {or upgraded route};
\node[tcell] (c7) at (5,1447) {Primary city pairs};
\node[tcell] (c8) at (5,1477) {connected};
\node[tcell] (c9) at (5,1509) {Main line corridors};
\node[tcell] (c10) at (5,1540) {enhanced};
\node[tcell] (c11) at (5,1572) {Integration with};
\node[tcell] (c12) at (5,1604) {secondary centres};
\node[tcell] (c13) at (5,1636) {Direct access to};
\node[tcell] (c14) at (5,1666) {Heathrow?};
\node[tnum,text=green!50!black,font=\numf\bfseries\fsz{40}] (v1) at (283,1232) {HSUK};
\node[tnum,text=red,font=\numf\bfseries\fsz{38}] (v2) at (383,1211) {HS2+};
\node[tnum,text=blue,font=\numf\bfseries\fsz{38}] (v3) at (384,1254) {NPR};
\node[tnum,text=green!50!black] (v4) at (283,1315) {911};
\node[tnum,text=red,font=\numf\bfseries\fsz{33}] (v5) at (383,1297) {956+};
\node[tnum,text=blue,font=\numf\bfseries\fsz{33}] (v6) at (384,1334) {196};
\node[tnum,text=green!50!black] (v7) at (284,1390) {307};
\node[tnum,text=red,font=\numf\bfseries\fsz{33}] (v8) at (383,1373) {38+};
\node[tnum,text=blue,font=\numf\bfseries\fsz{33}] (v9) at (383,1409) {66};
\node[tnum,text=green!50!black] (v10) at (283,1460) {54};
\node[tnum] (v11) at (384,1460) {\textcolor{red}{12{\fsz{22}+}}\textcolor{blue}{8}};
\node[tnum,text=green!50!black] (v12) at (282,1523) {6};
\node[tnum] (v13) at (383,1523) {\textcolor{red}{3{\fsz{22}+}}\textcolor{blue}{1}};
\node[tnum,text=green!50!black] (v14) at (282,1586) {Y};
\node[tnum,text=red] (v15) at (383,1586) {N};
\node[tnum,text=green!50!black] (v16) at (282,1649) {Y};
\node[tnum,text=red] (v17) at (383,1649) {N};
\end{tikzpicture}
\end{document}
